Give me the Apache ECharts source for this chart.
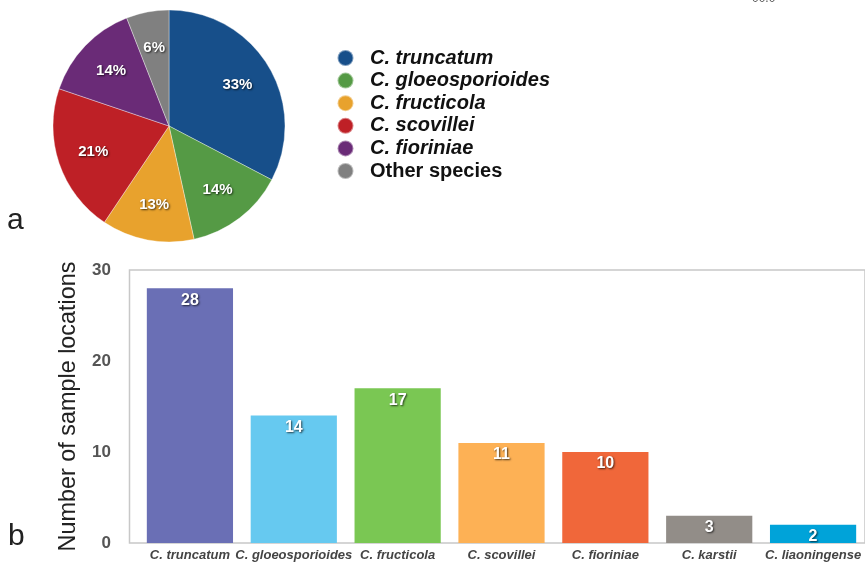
<!DOCTYPE html>
<html>
<head>
<meta charset="utf-8">
<script src="https://cdn.jsdelivr.net/npm/echarts@6/dist/echarts.min.js"></script>
<style>html,body{margin:0;padding:0;background:#fff;}#c{width:865px;height:562px;}</style>
</head>
<body>
<div id="c"></div>
<script>
// Pie (panel a)
const pieNames = ['C. truncatum', 'C. gloeosporioides', 'C. fructicola', 'C. scovillei', 'C. fioriniae', 'Other species'];
const pieValues = [33, 14, 13, 21, 14, 6];
const pieColors = ['#174f8a', '#559a45', '#e8a22d', '#be2026', '#6a2b77', '#808080'];

// Bars (panel b)
const barCategories = ['C. truncatum', 'C. gloeosporioides', 'C. fructicola', 'C. scovillei', 'C. fioriniae', 'C. karstii', 'C. liaoningense'];
const barValues = [28, 14, 17, 11, 10, 3, 2];
const barColors = ['#6a6fb5', '#66c9f0', '#7ac753', '#fdb155', '#f0673a', '#928d88', '#00a3d9'];
const yTicks = [0, 10, 20, 30];

const FONT = '"Liberation Sans", Arial, sans-serif';
const chart = echarts.init(document.getElementById('c'), null, {renderer: 'canvas'});

const pieData = pieNames.map((n, i) => ({name: n, value: pieValues[i], itemStyle: {color: pieColors[i]}}));
const pieLabelData = pieNames.map((n, i) => ({name: n, value: pieValues[i]}));

chart.setOption({
  animation: false,
  textStyle: {fontFamily: FONT},
  legend: {
    orient: 'vertical',
    left: 331.5,
    top: 43,
    icon: 'circle',
    itemWidth: 33,
    itemHeight: 16,
    itemGap: 2.6,
    data: pieNames.map((n, i) => ({name: n, itemStyle: {color: pieColors[i]}})),
    formatter: n => n === 'Other species' ? '{n|' + n + '}' : '{i|' + n + '}',
    textStyle: {
      fontFamily: FONT,
      padding: [0, 0, 0, 3],
      rich: {
        i: {fontSize: 20, fontWeight: 'bold', fontStyle: 'italic', color: '#111', fontFamily: FONT, lineHeight: 16},
        n: {fontSize: 20, fontWeight: 'bold', color: '#111', fontFamily: FONT, lineHeight: 16}
      }
    },
    selectedMode: false
  },
  grid: [
    {left: 138, top: 270, width: 728, height: 273, containLabel: false},
    {left: 129.5, top: 270, width: 740, height: 273, show: true, borderColor: '#c8c8c8', borderWidth: 1.5, backgroundColor: 'transparent'}
  ],
  xAxis: [
    {
      type: 'category', gridIndex: 0, data: barCategories,
      axisLine: {show: false},
      axisTick: {show: false},
      axisLabel: {interval: 0, margin: 6, fontSize: 13, fontWeight: 'bold', fontStyle: 'italic', color: '#444', fontFamily: FONT}
    },
    {type: 'category', gridIndex: 1, show: false, data: barCategories}
  ],
  yAxis: [
    {
      type: 'value', gridIndex: 0, min: 0, max: 30, interval: 10,
      axisLine: {show: false}, axisTick: {show: false},
      splitLine: {show: false},
      axisLabel: {margin: 27, fontSize: 17, fontWeight: 'bold', color: '#555', fontFamily: FONT,
        formatter: v => yTicks.includes(v) ? String(v) : ''},
      name: 'Number of sample locations',
      nameLocation: 'middle',
      nameGap: 58,
      nameTextStyle: {fontSize: 23.4, color: '#222', fontFamily: FONT}
    },
    {type: 'value', gridIndex: 1, show: false, min: 0, max: 30}
  ],
  series: [
    {
      type: 'pie',
      center: [169, 126],
      radius: [0, 116],
      startAngle: 90,
      clockwise: true,
      silent: true,
      data: pieData,
      itemStyle: {borderColor: 'rgba(255,255,255,0.45)', borderWidth: 0.8},
      label: {show: false},
      labelLine: {show: false}
    },
    {
      type: 'pie',
      center: [169, 126],
      radius: [0, 154],
      startAngle: 90,
      clockwise: true,
      silent: true,
      z: 5,
      data: pieLabelData,
      itemStyle: {color: 'rgba(0,0,0,0)'},
      label: {
        show: true, position: 'inside',
        formatter: p => p.value + '%',
        fontSize: 15, fontWeight: 'bold', color: '#fff', fontFamily: FONT,
        textShadowColor: 'rgba(0,0,0,0.7)', textShadowBlur: 2, textShadowOffsetX: 1, textShadowOffsetY: 1
      },
      labelLine: {show: false}
    },
    {
      type: 'bar',
      xAxisIndex: 0, yAxisIndex: 0,
      barCategoryGap: '17%',
      data: barValues.map((v, i) => ({value: v, itemStyle: {color: barColors[i]}})),
      label: {
        show: true, position: 'insideTop', distance: 4,
        fontSize: 16, fontWeight: 'bold', color: '#fff', fontFamily: FONT,
        textShadowColor: 'rgba(0,0,0,0.7)', textShadowBlur: 2, textShadowOffsetX: 1, textShadowOffsetY: 1
      }
    }
  ],
  graphic: [
    {type: 'text', left: 7, top: 206, style: {text: 'a', fontSize: 30, fill: '#222', fontFamily: FONT}},
    {type: 'text', left: 8, top: 522, style: {text: 'b', fontSize: 30, fill: '#222', fontFamily: FONT}},
    {type: 'text', left: 752, top: -7, style: {text: '00.0', fontSize: 12, fill: '#555', fontFamily: FONT}}
  ]
});
</script>
</body>
</html>
